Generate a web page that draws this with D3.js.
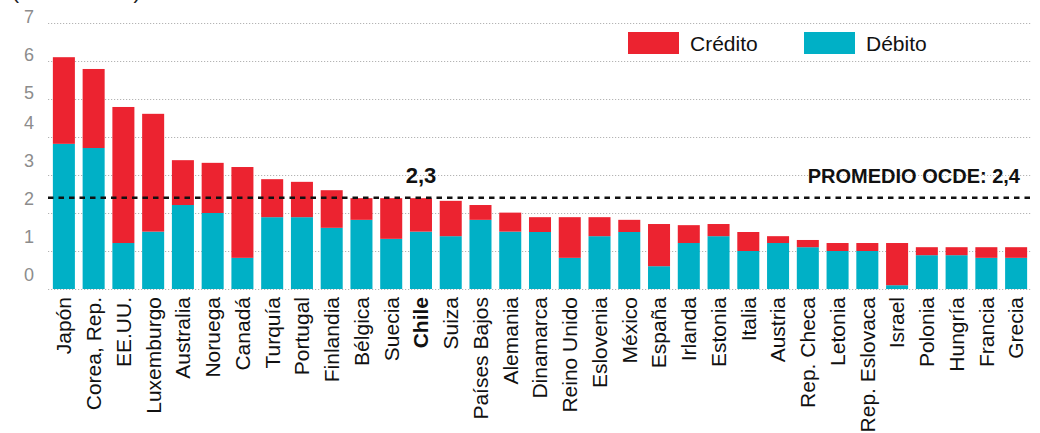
<!DOCTYPE html>
<html>
<head>
<meta charset="utf-8">
<script src="https://cdn.jsdelivr.net/npm/d3@7"></script>
<style>
  body { margin: 0; background: #fff; }
  svg { display: block; font-family: "Liberation Sans", Arial, sans-serif; }
</style>
</head>
<body>
<svg id="chart" width="1040" height="433"></svg>
<script>
// paises ordenados por total de tarjetas
var paises = ["Japón", "Corea, Rep.", "EE.UU.", "Luxemburgo", "Australia", "Noruega", "Canadá",
  "Turquía", "Portugal", "Finlandia", "Bélgica", "Suecia", "Chile", "Suiza", "Países Bajos",
  "Alemania", "Dinamarca", "Reino Unido", "Eslovenia", "México", "España", "Irlanda", "Estonia",
  "Italia", "Austria", "Rep. Checa", "Letonia", "Rep. Eslovaca", "Israel", "Polonia", "Hungría",
  "Francia", "Grecia"];

var debito = [3.82, 3.71, 1.21, 1.51, 2.21, 2.0, 0.82, 1.89, 1.89, 1.61, 1.82, 1.32, 1.51, 1.39,
  1.82, 1.51, 1.5, 0.82, 1.39, 1.5, 0.6, 1.21, 1.39, 1.0, 1.21, 1.1, 1.0, 1.0, 0.1, 0.89, 0.89,
  0.82, 0.82];

var credito = [2.28, 2.08, 3.58, 3.10, 1.18, 1.32, 2.39, 1.0, 0.93, 0.99, 0.57, 1.07, 0.88, 0.93,
  0.39, 0.5, 0.39, 1.07, 0.5, 0.32, 1.11, 0.47, 0.32, 0.5, 0.18, 0.19, 0.21, 0.21, 1.11, 0.21,
  0.21, 0.28, 0.28];

var yTicks = [0, 1, 2, 3, 4, 5, 6, 7];
var promedioOCDE = 2.4;
var chileLabel = "2,3";

var rojo = "#ec2330";
var celeste = "#00b0c6";

var svg = d3.select("#chart");

var x = d3.scaleBand()
    .domain(paises)
    .range([49, 1031])
    .paddingInner(0.26)
    .paddingOuter(0.13);

var y = d3.scaleLinear()
    .domain([0, 7])
    .range([289, 23]);

// table for the stack
var rows = paises.map(function(p, i) {
  return { pais: p, debito: debito[i], credito: credito[i] };
});
var series = d3.stack().keys(["debito", "credito"])(rows);
var colores = { debito: celeste, credito: rojo };

// title (cut off at the top in the original)
svg.append("text")
    .attr("x", 12)
    .attr("y", -1)
    .attr("font-size", 21)
    .attr("fill", "#222")
    .text("(en unidades)");

// dotted grid
svg.append("g")
  .selectAll("line")
    .data(yTicks)
  .enter().append("line")
    .attr("x1", 48)
    .attr("x2", 1031)
    .attr("y1", function(d) { return Math.round(y(d)) + 0.5; })
    .attr("y2", function(d) { return Math.round(y(d)) + 0.5; })
    .attr("stroke", "#b4b4b4")
    .attr("stroke-width", 1.2)
    .attr("stroke-dasharray", "1.2,1.8");

// y labels, sitting a bit above their lines like in the print version
var yAxis = svg.append("g")
    .attr("transform", "translate(34,0)")
    .call(d3.axisLeft(y).tickValues(yTicks).tickSize(0).tickPadding(0).tickFormat(d3.format("d")));
yAxis.select(".domain").remove();
yAxis.selectAll("text")
    .attr("font-size", 18)
    .attr("font-family", "Liberation Sans, Arial, sans-serif")
    .attr("fill", "#8c8c8c")
    .attr("dy", function(d) { return d >= 5 ? "-0.05em" : "-0.5em"; });

// bars
svg.append("g")
  .selectAll("g")
    .data(series)
  .enter().append("g")
    .attr("fill", function(s) { return colores[s.key]; })
  .selectAll("rect")
    .data(function(s) { return s; })
  .enter().append("rect")
    .attr("x", function(d) { return x(d.data.pais); })
    .attr("width", x.bandwidth())
    .attr("y", function(d) { return y(d[1]); })
    .attr("height", function(d) { return y(d[0]) - y(d[1]); });

// OECD average
svg.append("line")
    .attr("x1", 48)
    .attr("x2", 1033)
    .attr("y1", y(promedioOCDE))
    .attr("y2", y(promedioOCDE))
    .attr("stroke", "#111")
    .attr("stroke-width", 2.4)
    .attr("stroke-dasharray", "5.5,5");

svg.append("text")
    .attr("x", 1020)
    .attr("y", y(promedioOCDE) - 15)
    .attr("text-anchor", "end")
    .attr("font-size", 20)
    .attr("font-weight", "bold")
    .attr("fill", "#111")
    .text("PROMEDIO OCDE: " + d3.format(".1f")(promedioOCDE).replace(".", ","));

// Chile label
var iChile = paises.indexOf("Chile");
svg.append("text")
    .attr("x", x("Chile") + x.bandwidth() / 2)
    .attr("y", y(debito[iChile] + credito[iChile]) - 15)
    .attr("text-anchor", "middle")
    .attr("font-size", 22)
    .attr("font-weight", "bold")
    .attr("fill", "#111")
    .text(chileLabel);

// x labels rotated
var xAxis = svg.append("g")
    .attr("transform", "translate(0," + y(0) + ")")
    .call(d3.axisBottom(x).tickSize(0));
xAxis.select(".domain").remove();
xAxis.selectAll("text")
    .attr("font-size", 21)
    .attr("font-family", "Liberation Sans, Arial, sans-serif")
    .attr("fill", "#111")
    .attr("font-weight", function(d) { return d === "Chile" ? "bold" : "normal"; })
    .attr("transform", "rotate(-90)")
    .attr("x", -8)
    .attr("y", 0)
    .attr("dy", "0.35em")
    .attr("text-anchor", "end");

// legend
var leyenda = [
  { nombre: "Crédito", color: rojo, x: 628 },
  { nombre: "Débito", color: celeste, x: 804 }
];
var lg = svg.append("g")
  .selectAll("g")
    .data(leyenda)
  .enter().append("g")
    .attr("transform", function(d) { return "translate(" + d.x + ",32)"; });
lg.append("rect")
    .attr("width", 51)
    .attr("height", 22)
    .attr("fill", function(d) { return d.color; });
lg.append("text")
    .attr("x", 62)
    .attr("y", 19)
    .attr("font-size", 21)
    .attr("fill", "#111")
    .text(function(d) { return d.nombre; });
</script>
</body>
</html>
